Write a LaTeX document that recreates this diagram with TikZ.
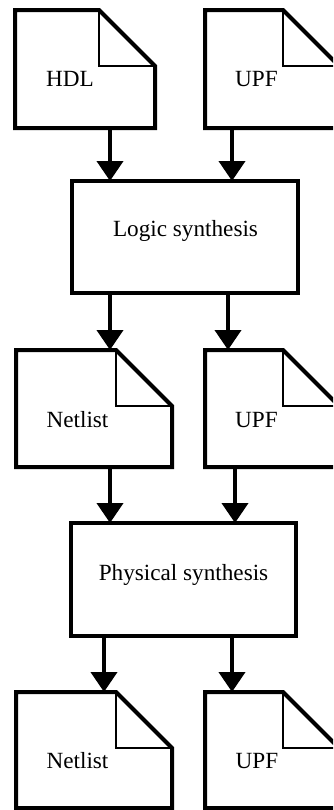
\documentclass[tikz,border=0pt]{standalone}
\usepackage{fontspec}
\setmainfont{Liberation Serif}
\usetikzlibrary{arrows.meta}

% outline of a document sheet with a folded top-right corner
\newcommand\sheetoutline[1]{%
  \draw[crease] ([xshift=-42pt]#1.north east) |- ([yshift=-42pt]#1.north east);
  \draw[heavy] (#1.north west) -- ([xshift=-42pt]#1.north east)
    -- ([yshift=-42pt]#1.north east) -- (#1.south east) -- (#1.south west) -- cycle;
}

\begin{document}
\begin{tikzpicture}[x=0.75pt,y=-0.75pt,
  every node/.style={inner sep=0pt, outer sep=0pt},
  heavy/.style={line width=3pt, line join=miter},
  crease/.style={line width=1.5pt},
  sheet/.style 2 args={rectangle, minimum width={#1*0.75pt}, minimum height={#2*0.75pt}},
  procbox/.style 2 args={rectangle, draw, heavy, minimum width={#1*0.75pt}, minimum height={#2*0.75pt}},
  txt/.style={font=\fontsize{17.4}{20}\selectfont, anchor=base},
  flow/.style={heavy, -{Triangle[width=19.5pt,length=15pt]}}
]
\useasboundingbox (0,0) rectangle (333,810);
\clip (0,0) rectangle (333,810);

% inputs
\node[sheet={140}{118}] (hdl) at (85,69) {};
\node[txt] (hdltext) at (70,86) {HDL};
\node[sheet={134}{118}] (upfa) at (272,69) {};
\node[txt] (upfatext) at (256.5,86) {UPF};
\sheetoutline{hdl}
\sheetoutline{upfa}

% logic synthesis
\node[procbox={226}{112}] (logic) at (185,237) {};
\node[txt] (logictext) at (185.5,236) {Logic synthesis};

% intermediate results
\node[sheet={156}{117}] (neta) at (94,408.5) {};
\node[txt] (netatext) at (77.5,427) {Netlist};
\node[sheet={134}{117}] (upfb) at (272,408.5) {};
\node[txt] (upfbtext) at (256.5,427) {UPF};
\sheetoutline{neta}
\sheetoutline{upfb}

% physical synthesis
\node[procbox={225}{113}] (phys) at (183.5,579.5) {};
\node[txt] (phystext) at (183.5,580) {Physical synthesis};

% outputs
\node[sheet={156}{116}] (netb) at (94,750) {};
\node[txt] (netbtext) at (77.5,768) {Netlist};
\node[sheet={134}{116}] (upfc) at (272,750) {};
\node[txt] (upfctext) at (257,768) {UPF};
\sheetoutline{netb}
\sheetoutline{upfc}

% flow arrows
\draw[flow] (hdl.south -| 110,0) -- (logic.north -| 110,0);
\draw[flow] (upfa.south -| 232,0) -- (logic.north -| 232,0);
\draw[flow] (logic.south -| 110,0) -- (neta.north -| 110,0);
\draw[flow] (logic.south -| 228,0) -- (upfb.north -| 228,0);
\draw[flow] (neta.south -| 110,0) -- (phys.north -| 110,0);
\draw[flow] (upfb.south -| 235,0) -- (phys.north -| 235,0);
\draw[flow] (phys.south -| 104,0) -- (netb.north -| 104,0);
\draw[flow] (phys.south -| 232,0) -- (upfc.north -| 232,0);
\end{tikzpicture}
\end{document}
